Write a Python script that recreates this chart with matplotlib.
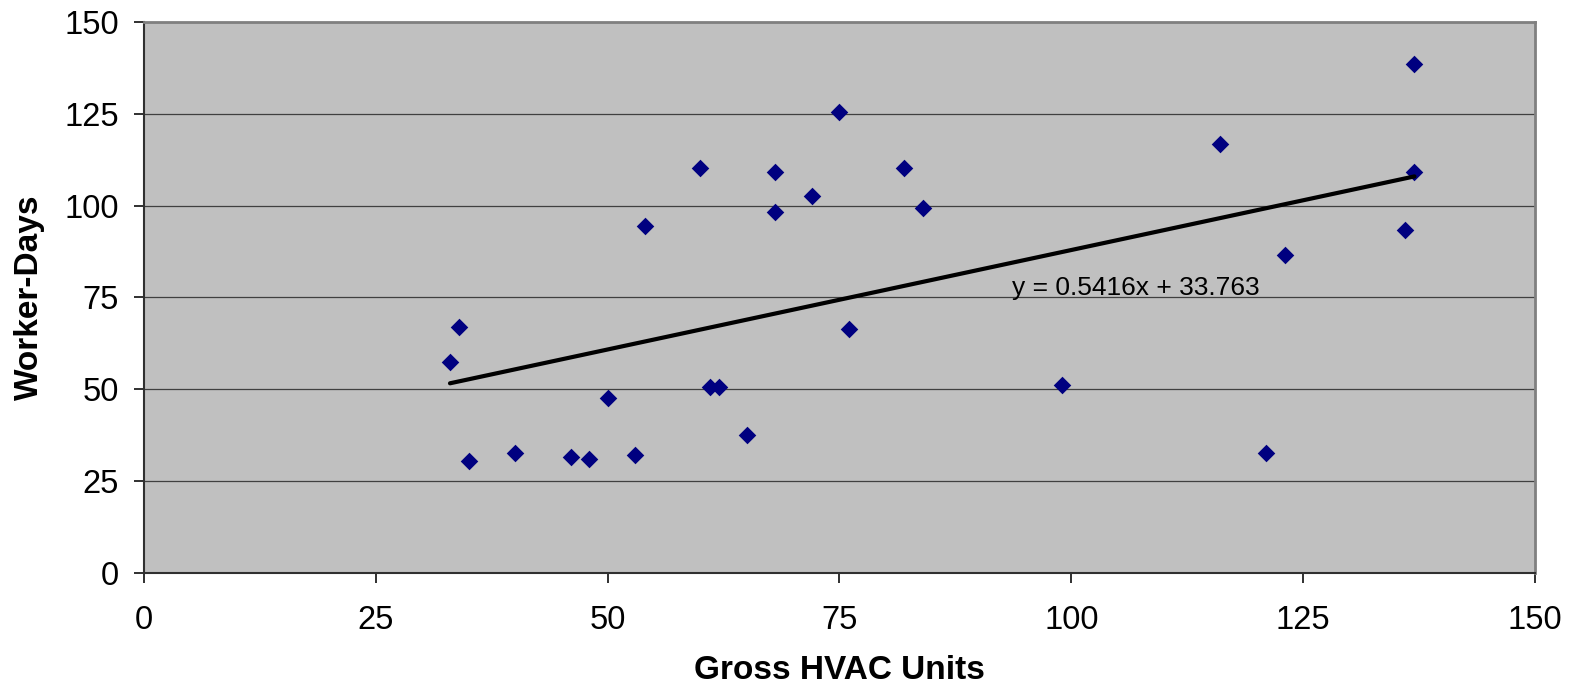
import matplotlib.pyplot as plt
import numpy as np

plt.rcParams['font.family'] = ['Liberation Sans', 'DejaVu Sans']

# gross HVAC units vs worker-days
units = [33, 34, 35, 40, 46, 48, 50, 53, 54, 60, 61, 62, 65, 68, 68, 72, 75, 76,
         82, 84, 99, 116, 121, 123, 136, 137, 137]
days = [57.3, 67.1, 30.5, 32.7, 31.6, 31.1, 47.5, 32.2, 94.4, 110.2, 50.7, 50.7,
        37.6, 109.1, 98.2, 102.5, 125.4, 66.5, 110.2, 99.3, 51.3, 116.7, 32.7,
        86.7, 93.3, 138.5, 109.1]

slope = 0.5416
intercept = 33.763
ticks = [0, 25, 50, 75, 100, 125, 150]

fig = plt.figure(figsize=(15.7, 6.94), dpi=100)
ax = fig.add_axes([0.0917, 0.1744, 0.886, 0.7939])
ax.set_facecolor('#c0c0c0')

ax.scatter(units, days, marker='D', s=80, color='#000080', zorder=3, linewidths=0)

# linear trend line
xl = np.array([min(units), max(units)])
ax.plot(xl, slope * xl + intercept, color='black', lw=3, zorder=4,
        solid_capstyle='round')
ax.text(93.6, 77.5, 'y = 0.5416x + 33.763', fontsize=19, va='center', ha='left')

ax.set_xlim(0, 150)
ax.set_ylim(0, 150)
ax.set_xticks(ticks)
ax.set_yticks(ticks)
ax.grid(axis='y', color='#404040', lw=0.9)
ax.set_axisbelow(True)

for s in ['top', 'right']:
    ax.spines[s].set_color('#808080')
    ax.spines[s].set_linewidth(2)
for s in ['left', 'bottom']:
    ax.spines[s].set_color('#303030')
    ax.spines[s].set_linewidth(1.5)

ax.tick_params(axis='both', direction='out', length=7, width=1.3, color='#202020',
               labelsize=23.5)
ax.tick_params(axis='y', pad=11)
ax.tick_params(axis='x', pad=16)

ax.set_xlabel('Gross HVAC Units', fontsize=24, fontweight='bold', labelpad=14)
ax.set_ylabel('Worker-Days', fontsize=24, fontweight='bold', labelpad=14)

fig.savefig('out.png', dpi=100)
